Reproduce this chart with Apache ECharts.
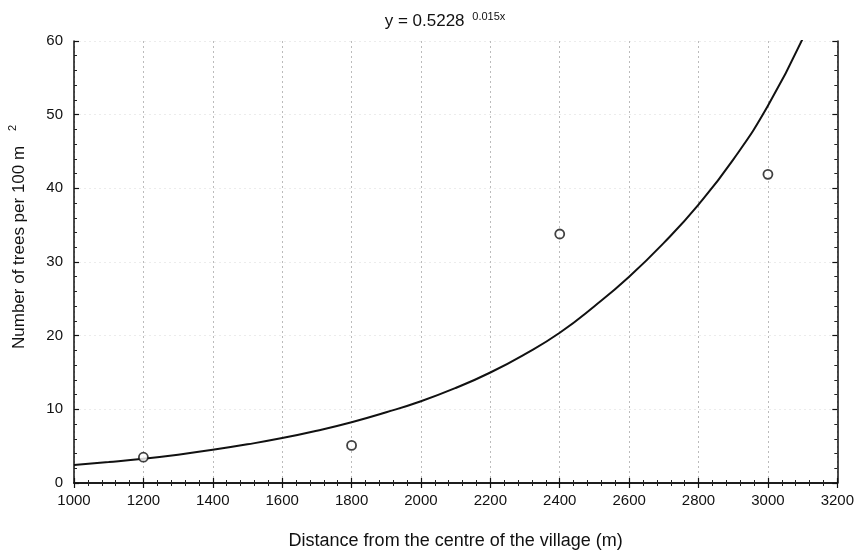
<!DOCTYPE html>
<html>
<head>
<meta charset="utf-8">
<script src="https://cdn.jsdelivr.net/npm/echarts@6/dist/echarts.min.js"></script>
<style>html,body{margin:0;padding:0;background:#fff}#c{width:857px;height:555px}</style>
</head>
<body>
<div id="c"></div>
<script>
// Observed points
const pointX = [1200, 1800, 2400, 3000];
const pointY = [3.5, 5.1, 33.8, 41.9];
// Fitted curve
const curveX = [1000,1100,1200,1300,1400,1500,1600,1700,1800,1900,2000,2100,2200,2300,2400,2500,2600,2700,2800,2900,3000,3100];
const curveY = [2.45,2.85,3.3,3.85,4.5,5.25,6.1,7.1,8.25,9.6,11.1,12.9,15.0,17.5,20.4,24.0,28.0,32.6,37.8,43.9,51.2,60.3];
const xTicks = [1000,1200,1400,1600,1800,2000,2200,2400,2600,2800,3000,3200];
const yTicks = [0,10,20,30,40,50,60];

const FONT = '"Liberation Sans", Arial, sans-serif';
const axisBase = {
  axisLine: {show: true, lineStyle: {color: '#111', width: 1.5}},
  axisTick: {show: true, inside: true, length: 5, lineStyle: {color: '#111', width: 1.2}},
  minorTick: {show: true, splitNumber: 5, length: 3, lineStyle: {color: '#222', width: 1}},
};
const chart = echarts.init(document.getElementById('c'));
chart.setOption({
  animation: false,
  backgroundColor: '#fff',
  title: {
    text: '{a|y = 0.5228 }{b|0.015x}',
    left: 440, top: 6, textAlign: 'center',
    textStyle: {
      rich: {
        a: {fontFamily: FONT, fontSize: 17, fontWeight: 'normal', color: '#111', verticalAlign: 'bottom'},
        b: {fontFamily: FONT, fontSize: 11, fontWeight: 'normal', color: '#111', padding: [0,0,8,3]}
      }
    }
  },
  graphic: [{
    type: 'text',
    x: 19, y: 237,
    rotation: Math.PI / 2,
    style: {
      text: '{a|Number of trees per 100 m }{b|2}',
      align: 'center', verticalAlign: 'middle',
      rich: {
        a: {fontFamily: FONT, fontSize: 17, fill: '#111'},
        b: {fontFamily: FONT, fontSize: 11, fill: '#111', padding: [0,0,12,10]}
      }
    }
  }],
  grid: {left: 74, right: 19, top: 41, bottom: 67},
  xAxis: [
    Object.assign({}, axisBase, {
      type: 'value', min: xTicks[0], max: xTicks[xTicks.length-1], interval: 200,
      position: 'bottom',
      axisLabel: {fontFamily: FONT, fontSize: 15, color: '#111', margin: 10, formatter: v => String(v)},
      splitLine: {show: true, lineStyle: {color: '#bbb', type: [2,3], width: 1}},
      name: 'Distance from the centre of the village (m)',
      nameLocation: 'middle', nameGap: 49,
      nameTextStyle: {fontFamily: FONT, fontSize: 18, color: '#111'}
    }),
    Object.assign({}, axisBase, {
      type: 'value', min: xTicks[0], max: xTicks[xTicks.length-1], interval: 200,
      position: 'top', axisLabel: {show: false}, splitLine: {show: false}
    })
  ],
  yAxis: [
    Object.assign({}, axisBase, {
      type: 'value', min: yTicks[0], max: yTicks[yTicks.length-1], interval: 10,
      position: 'left',
      axisLabel: {fontFamily: FONT, fontSize: 15, color: '#111', margin: 11},
      splitLine: {show: true, lineStyle: {color: '#ececec', type: [2,3], width: 1}}
    }),
    Object.assign({}, axisBase, {
      type: 'value', min: yTicks[0], max: yTicks[yTicks.length-1], interval: 10,
      position: 'right', axisLabel: {show: false}, splitLine: {show: false}
    })
  ],
  series: [
    {
      type: 'line',
      data: curveX.map((x, i) => [x, curveY[i]]),
      showSymbol: false, smooth: true, clip: true,
      lineStyle: {color: '#111', width: 2},
      z: 3
    },
    {
      type: 'scatter',
      data: pointX.map((x, i) => [x, pointY[i]]),
      symbol: 'circle', symbolSize: 9,
      itemStyle: {color: '#fff', borderColor: '#111', borderWidth: 1.8},
      z: 4
    }
  ]
});
</script>
</body>
</html>
